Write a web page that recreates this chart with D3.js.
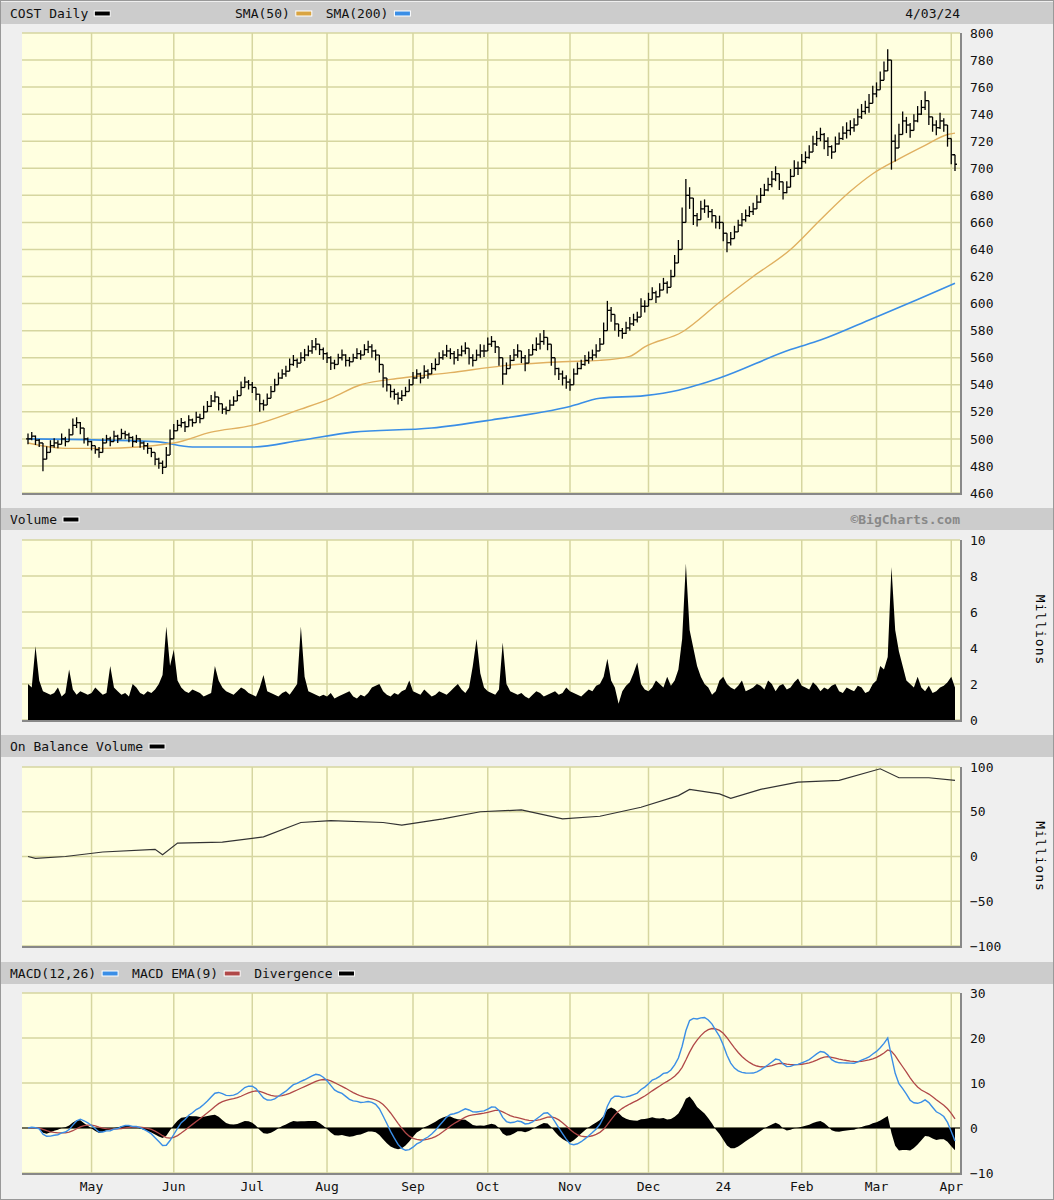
<!DOCTYPE html>
<html><head><meta charset="utf-8">
<script src="https://cdn.jsdelivr.net/npm/d3@7"></script>
<style>body{margin:0;background:#efefef}text{font-family:"DejaVu Sans Mono",monospace;font-size:13px}</style>
</head><body><div id="chart"></div>
<script>
// daily closes, by month (Apr 2023 .. Apr 2024)
const closes = [].concat(
  [500,502,499,497,485,490,495,497,496,500,498,503,510,512,508,500,498],
  [495,492,490,497,500,498,502,500,504,503,501,498,500,497,495,493,490,485,482,479,488,500],
  [506,510,512,509,514,512,516,515,520,524,528,531,526,522,521,525,528,532,538,542,540],
  [538,533,526,525,530,535,540,545,548,550,555,558,556,560,562,565,568,570,566],
  [563,560,556,555,560,562,558,557,560,563,562,566,568,565,562,555,545,540,535,533,530,532,535],
  [540,545,548,545,550,548,552,555,560,562,565,563,560,562,565,567,560,558,562,565],
  [565,570,572,568,560,548,552,558,562,565,560,556,562,566,570,572,575,570,560,552,548,545],
  [542,540,548,552,555,558,560,562,565,570,580,595,592,585,580,578,582,585,588,590,598],
  [598,603,608,605,610,615,612,620,630,640,660,680,678,665,662,670,672,668,665,660],
  [660,652,645,648,653,658,662,665,668,670,675,680,684,688,692,696,690,682,686,694,700],
  [700,705,708,712,718,722,725,720,716,712,718,722,726,728,730,732,738,742,745,748],
  [755,758,765,772,780,720,715,725,735,732,728,735,740,745,750,738,732,730,735,732],
  [722,710,703]
);
// daily high-low range
const ranges = [].concat(
  [8,6,7,6,18,9,8,7,6,8,7,9,10,8,9,7,6],
  [7,6,8,7,6,7,8,6,7,6,7,8,6,7,6,8,7,9,8,10,12,14],
  [10,8,7,8,7,6,8,7,9,8,9,8,10,7,6,8,7,8,9,8,7],
  [8,9,12,8,7,8,9,8,7,8,9,8,7,8,9,8,10,9,8],
  [9,8,10,7,6,8,9,7,6,8,7,8,9,10,8,12,14,10,9,8,9,8,7],
  [8,9,7,8,9,7,8,9,8,7,9,8,10,9,8,9,10,9,8,10],
  [9,10,8,9,12,16,9,8,9,10,8,12,9,8,10,12,11,9,12,10,9,11],
  [10,9,8,9,7,8,9,8,10,9,12,14,11,10,9,8,9,10,9,8,12],
  [9,10,8,9,10,8,9,10,12,14,22,24,16,14,10,12,10,9,10,9],
  [10,12,14,10,9,8,10,9,8,9,10,11,9,10,12,11,12,10,9,11,12],
  [10,11,9,10,12,11,10,12,14,10,11,9,10,12,11,10,12,11,10,14],
  [12,11,13,14,16,42,20,16,14,12,11,10,12,11,14,12,10,11,12,10],
  [12,14,10]
);
// daily volume, millions
const volumes = [].concat(
  [2.0,1.8,4.1,2.2,1.6,1.5,1.4,1.5,1.8,1.3,1.5,2.8,1.7,1.4,1.6,1.5,1.4],
  [1.5,1.8,1.6,1.4,1.5,3.0,1.8,1.6,1.4,1.5,1.3,2.0,1.8,1.5,1.4,1.6,1.5,1.7,2.0,2.5,5.2,3.0],
  [3.9,2.2,1.8,1.6,1.5,1.7,1.6,1.5,1.3,1.4,1.5,3.0,2.2,1.8,1.6,1.5,1.4,1.6,1.8,1.7,1.5],
  [1.4,1.3,1.8,2.5,1.6,1.5,1.4,1.3,1.5,1.6,1.4,1.7,2.0,5.2,2.4,1.6,1.5,1.4,1.3],
  [1.4,1.3,1.5,1.2,1.3,1.4,1.5,1.6,1.3,1.2,1.4,1.3,1.5,1.8,1.9,2.0,1.6,1.4,1.3,1.5,1.4,1.6,1.7],
  [2.2,1.6,1.5,1.4,1.7,1.5,1.3,1.4,1.6,1.5,1.4,1.6,1.8,2.0,1.7,1.5,1.8,3.0,4.5,2.6],
  [1.8,1.6,1.5,1.4,1.7,4.3,2.0,1.6,1.5,1.4,1.5,1.3,1.2,1.4,1.6,1.5,1.3,1.4,1.5,1.6,1.4,1.5],
  [1.8,1.6,1.5,1.4,1.3,1.5,1.7,1.6,1.9,2.0,2.4,3.4,2.2,1.8,0.9,1.6,1.9,2.1,2.6,3.2,2.0],
  [1.7,1.6,1.8,2.2,2.0,1.8,2.4,1.9,2.2,2.8,4.5,8.7,5.0,4.0,3.0,2.4,2.0,1.8,1.4,1.6],
  [2.2,2.4,2.0,1.8,1.7,1.9,2.2,1.6,1.7,1.8,2.0,1.9,1.7,2.2,2.0,1.6,1.9,2.0,1.7,1.8,2.1],
  [2.3,1.9,1.8,1.7,2.1,1.9,1.6,1.8,1.7,1.9,2.0,1.6,1.5,1.8,1.7,1.6,1.9,1.8,1.5,1.6],
  [2.0,2.2,3.0,2.8,3.5,8.5,5.0,3.8,3.0,2.2,2.0,1.8,2.4,1.8,1.6,1.9,1.5,1.6,1.8,1.9],
  [2.1,2.4,1.8]
);
// moving averages and OBV: [day index, value]
const sma50 = [[0,497],[10,493],[20,493],[39,497],[49,505],[60,510],[73,522],[81,530],[89,540],[100,545],[113,549],[127,554],[143,557],[153,558],[161,561],[165,568],[175,579],[185,601],[194,620],[204,640],[212,662],[220,683],[226,696],[233,707],[240,717],[246,725],[248,726]];
const sma200 = [[0,500],[34,498],[44,494],[60,494],[73,499],[87,505],[108,508],[124,514],[145,524],[153,530],[165,532],[174,536],[185,545],[204,566],[212,573],[226,589],[238,603],[248,615]];
const obv = [[0,0],[2,-2],[10,0],[20,5],[34,8],[36,2],[40,15],[52,16],[63,22],[73,38],[81,40],[95,38],[100,35],[111,42],[121,50],[132,52],[143,42],[153,45],[164,55],[174,68],[177,75],[185,70],[188,65],[196,75],[206,83],[217,85],[228,98],[233,88],[241,88],[248,85]];
const holidays = ["2023-04-07","2023-05-29","2023-06-19","2023-07-04","2023-09-04","2023-11-23","2023-12-25","2024-01-01","2024-01-15","2024-02-19","2024-03-29"];
const monthLabels = ["May","Jun","Jul","Aug","Sep","Oct","Nov","Dec","24","Feb","Mar","Apr"];

// trading calendar
const fmt = d3.timeFormat("%Y-%m-%d");
const dates = d3.timeDay.range(new Date(2023,3,5), new Date(2024,3,4))
  .filter(d => d.getDay() > 0 && d.getDay() < 6 && !holidays.includes(fmt(d)));
const N = closes.length;
const monthIdx = [];
for (let i = 1; i < dates.length; i++) if (dates[i].getMonth() !== dates[i-1].getMonth()) monthIdx.push(i);

// MACD from closes
function ema(arr, n) { const k = 2/(n+1); let e = arr[0]; return arr.map(v => e = v*k + e*(1-k)); }
const e12 = ema(closes, 12), e26 = ema(closes, 26);
const macd = closes.map((c, i) => e12[i] - e26[i]);
const signal = ema(macd, 9);
const diverg = macd.map((m, i) => m - signal[i]);

const W = 1054, H = 1200, L = 22, R = 960;
const svg = d3.select("#chart").append("svg").attr("width", W).attr("height", H);
svg.append("rect").attr("x",0.5).attr("y",0.5).attr("width",W-1).attr("height",H-1).attr("fill","#efefef").attr("stroke","#999");
const x = d3.scaleLinear().domain([0, N-1]).range([28, 955]);

function header(y, items, right) {
  svg.append("rect").attr("x",1).attr("y",y).attr("width",W-2).attr("height",22).attr("fill","#cccccc");
  let cx = 10;
  items.forEach(it => {
    if (it.x) cx = it.x;
    const t = svg.append("text").attr("x",cx).attr("y",y+16).attr("fill","#111").text(it.t);
    cx += t.node().getComputedTextLength() + 6;
    svg.append("rect").attr("x",cx).attr("y",y+9).attr("width",16).attr("height",5).attr("fill",it.c).attr("stroke","#fff").attr("stroke-width",1);
    cx += 30;
  });
  if (right) svg.append("text").attr("x",R).attr("y",y+16).attr("text-anchor","end").attr("fill",right.c).attr("font-weight",right.b?"bold":null).text(right.t);
}

function panel(top, bottom, domain, ticks, millions) {
  const y = d3.scaleLinear().domain(domain).range([bottom, top]);
  svg.append("rect").attr("x",L).attr("y",top).attr("width",R-L).attr("height",bottom-top).attr("fill","#ffffe0");
  const g = svg.append("g");
  g.selectAll(".h").data(ticks).join("line").attr("x1",L).attr("x2",R).attr("y1",y).attr("y2",y).attr("stroke","#d6d6a0").attr("stroke-width",1.5);
  g.selectAll(".v").data(monthIdx).join("line").attr("x1",d=>x(d)).attr("x2",d=>x(d)).attr("y1",top).attr("y2",bottom).attr("stroke","#d6d6a0").attr("stroke-width",1.5);
  svg.append("line").attr("x1",L).attr("x2",R).attr("y1",bottom+1).attr("y2",bottom+1).attr("stroke","#888").attr("stroke-width",2);
  svg.append("line").attr("x1",R+1).attr("x2",R+1).attr("y1",top).attr("y2",bottom+2).attr("stroke","#888").attr("stroke-width",2);
  svg.append("g").attr("transform",`translate(${R},0)`)
    .call(d3.axisRight(y).tickValues(ticks).tickSize(0).tickPadding(10))
    .call(a => a.select(".domain").remove())
    .selectAll("text").attr("font-family","DejaVu Sans Mono, monospace").attr("font-size",13).attr("fill","#111");
  if (millions) svg.append("text").attr("transform",`translate(1036,${(top+bottom)/2}) rotate(90)`).attr("text-anchor","middle").attr("letter-spacing",1).text("Millions");
  return y;
}

// price panel
header(2, [{t:"COST Daily",c:"#000"},{t:"SMA(50)",c:"#d9a441",x:235},{t:"SMA(200)",c:"#3a8ee6"}], {t:"4/03/24",c:"#111"});
const yP = panel(33, 493, [460, 800], d3.range(460, 801, 20));
const line = y => d3.line().x(d => x(d[0])).y(d => y(d[1])).curve(d3.curveMonotoneX);
svg.append("path").datum(sma200).attr("d", line(yP)).attr("fill","none").attr("stroke","#3a8ee6").attr("stroke-width",1.6);
svg.append("path").datum(sma50).attr("d", line(yP)).attr("fill","none").attr("stroke","#e0b060").attr("stroke-width",1.4);
const bars = svg.append("g").attr("stroke","#000").attr("stroke-width",1.3);
closes.forEach((c, i) => {
  const hi = c + ranges[i]*0.5, lo = c - ranges[i]*0.5, op = i ? closes[i-1] : c;
  bars.append("line").attr("x1",x(i)).attr("x2",x(i)).attr("y1",yP(Math.max(hi, op))).attr("y2",yP(Math.min(lo, op)));
  bars.append("line").attr("x1",x(i)).attr("x2",x(i)+2).attr("y1",yP(c)).attr("y2",yP(c));
  bars.append("line").attr("x1",x(i)-2).attr("x2",x(i)).attr("y1",yP(op)).attr("y2",yP(op));
});

// volume
header(508, [{t:"Volume",c:"#000"}], {t:"©BigCharts.com",c:"#888",b:true});
const yV = panel(540, 720, [0, 10], d3.range(0, 11, 2), true);
svg.append("path").datum(volumes).attr("fill","#000")
  .attr("d", d3.area().x((d,i) => x(i)).y0(yV(0)).y1(d => yV(d)));

// OBV
header(735, [{t:"On Balance Volume",c:"#000"}]);
const yO = panel(767, 946, [-100, 100], [-100,-50,0,50,100], true);
svg.append("path").datum(obv).attr("d", d3.line().x(d => x(d[0])).y(d => yO(d[1]))).attr("fill","none").attr("stroke","#333").attr("stroke-width",1.2);

// MACD
header(962, [{t:"MACD(12,26)",c:"#3a8ee6"},{t:"MACD EMA(9)",c:"#b04848"},{t:"Divergence",c:"#000"}]);
const yM = panel(993, 1173, [-10, 30], [-10,0,10,20,30]);
svg.append("path").datum(diverg).attr("fill","#000").attr("d", d3.area().x((d,i) => x(i)).y0(yM(0)).y1(d => yM(d)));
svg.append("line").attr("x1",L).attr("x2",R).attr("y1",yM(0)).attr("y2",yM(0)).attr("stroke","#000");
svg.append("path").datum(signal).attr("d", d3.line().x((d,i) => x(i)).y(d => yM(d))).attr("fill","none").attr("stroke","#b04848").attr("stroke-width",1.3);
svg.append("path").datum(macd).attr("d", d3.line().x((d,i) => x(i)).y(d => yM(d))).attr("fill","none").attr("stroke","#3a8ee6").attr("stroke-width",1.4);

// month labels
svg.selectAll(".ml").data(monthIdx).join("text").attr("x",d => x(d)).attr("y",1191).attr("text-anchor","middle").attr("fill","#111").text((d,i) => monthLabels[i]);
</script></body></html>
